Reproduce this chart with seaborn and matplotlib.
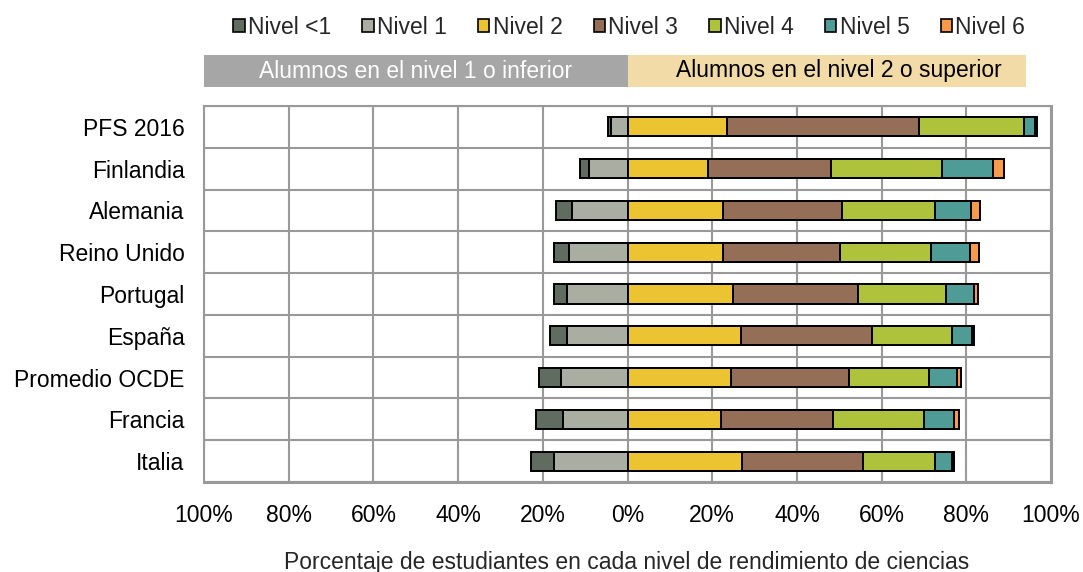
import numpy as np
import pandas as pd
import matplotlib
matplotlib.use("Agg")
import matplotlib.pyplot as plt
import matplotlib.transforms as mtransforms
from matplotlib.patches import Patch, Rectangle
import seaborn as sns

# Data (percent of students per level)
categories = ["PFS 2016", "Finlandia", "Alemania", "Reino Unido", "Portugal",
              "España", "Promedio OCDE", "Francia", "Italia"]
nivel_lt1 = [0.7, 2.2, 3.8, 3.6, 3.2, 4.2, 5.2, 6.3, 5.5]
nivel_1 = [3.9, 9.1, 13.2, 13.8, 14.2, 14.2, 15.8, 15.2, 17.4]
nivel_2 = [23.6, 19.1, 22.5, 22.5, 25.0, 26.7, 24.5, 22.1, 27.1]
nivel_3 = [45.3, 29.0, 28.2, 27.7, 29.3, 31.1, 27.7, 26.5, 28.6]
nivel_4 = [24.6, 26.1, 22.0, 21.4, 20.9, 18.9, 18.9, 21.4, 16.9]
nivel_5 = [2.6, 12.2, 8.5, 9.2, 6.7, 4.6, 6.7, 7.2, 4.0]
nivel_6 = [0.5, 2.6, 2.1, 2.1, 0.8, 0.5, 1.0, 1.1, 0.6]

level_names = ["Nivel <1", "Nivel 1", "Nivel 2", "Nivel 3", "Nivel 4", "Nivel 5", "Nivel 6"]
level_colors = ["#616c61", "#aaada2", "#ecc432", "#946e56", "#aec23b", "#4f9b96", "#f89a4a"]

sns.set_style("white")
plt.rcParams["font.family"] = ["Liberation Sans", "DejaVu Sans"]
FS = 16.5

df = pd.DataFrame({
    "pais": categories,
    "lt1": nivel_lt1, "n1": nivel_1, "n2": nivel_2, "n3": nivel_3,
    "n4": nivel_4, "n5": nivel_5, "n6": nivel_6,
})

fig = plt.figure(figsize=(10.83, 5.72), dpi=100)
ax = fig.add_axes([0.1884, 0.1573, 0.7821, 0.6574])

bar_kw = dict(orient="h", order=categories, width=0.46, edgecolor="black",
              linewidth=1.4, saturation=1, ax=ax, zorder=3)

# left side (below level 2): draw the longer bar first, then overlay
sns.barplot(x=-(df["lt1"] + df["n1"]), y=df["pais"], color=level_colors[0], **bar_kw)
sns.barplot(x=-df["n1"], y=df["pais"], color=level_colors[1], **bar_kw)

# right side (level 2 and above): cumulative sums, longest first
pos_cols = ["n2", "n3", "n4", "n5", "n6"]
cum = df[pos_cols].cumsum(axis=1)
for i in range(len(pos_cols) - 1, -1, -1):
    sns.barplot(x=cum[pos_cols[i]], y=df["pais"], color=level_colors[i + 2], **bar_kw)

ax.set_xlim(-100, 100)
ax.set_ylim(len(categories) - 0.5, -0.5)
ticks = list(range(-100, 101, 20))
ax.set_xticks(ticks)
ax.set_xticklabels([f"{abs(t)}%" for t in ticks])
ax.set_yticks(range(len(categories)))
ax.set_yticklabels(categories)
ax.set_yticks(np.arange(-0.5, len(categories), 1), minor=True)
ax.set_xlabel("")
ax.set_ylabel("")

grid_c = "#999999"
ax.grid(axis="x", which="major", color=grid_c, linewidth=1.5, zorder=0)
ax.grid(axis="y", which="minor", color=grid_c, linewidth=1.5, zorder=0)
ax.grid(axis="y", which="major", visible=False)
ax.set_axisbelow(True)
for side, sp in ax.spines.items():
    sp.set_visible(True)
    sp.set_color(grid_c)
    sp.set_linewidth(1.5)
ax.spines["right"].set_linewidth(2.2)
ax.spines["bottom"].set_linewidth(2.2)

ax.tick_params(axis="both", which="both", length=0, labelsize=FS, colors="black")
ax.tick_params(axis="y", pad=14)
ax.tick_params(axis="x", pad=16)

# header bands above the plot
trans = mtransforms.blended_transform_factory(ax.transData, fig.transFigure)
y0, y1 = 1 - 87 / 572, 1 - 55 / 572
fig.patches.append(Rectangle((-100, y0), 100, y1 - y0, transform=trans,
                             facecolor="#a6a6a6", edgecolor="none", figure=fig))
fig.patches.append(Rectangle((0, y0), 94, y1 - y0, transform=trans,
                             facecolor="#f2dba7", edgecolor="none", figure=fig))
fig.text(-50, (y0 + y1) / 2, "Alumnos en el nivel 1 o inferior", transform=trans,
         ha="center", va="center", fontsize=FS, color="white")
fig.text(50, (y0 + y1) / 2, "Alumnos en el nivel 2 o superior", transform=trans,
         ha="center", va="center", fontsize=FS, color="black")

# legend
handles = [Patch(facecolor=c, edgecolor="black", linewidth=1.2) for c in level_colors]
fig.legend(handles, level_names, loc="center", bbox_to_anchor=(0.581, 1 - 27 / 572),
           ncol=7, frameon=False, fontsize=FS, handlelength=0.5, handleheight=0.5,
           handletextpad=0.15, columnspacing=1.35, borderaxespad=0)

fig.text(0.579, 1 - 562 / 572, "Porcentaje de estudiantes en cada nivel de rendimiento de ciencias",
         ha="center", va="center", fontsize=FS)

fig.savefig("out.png", dpi=100)
